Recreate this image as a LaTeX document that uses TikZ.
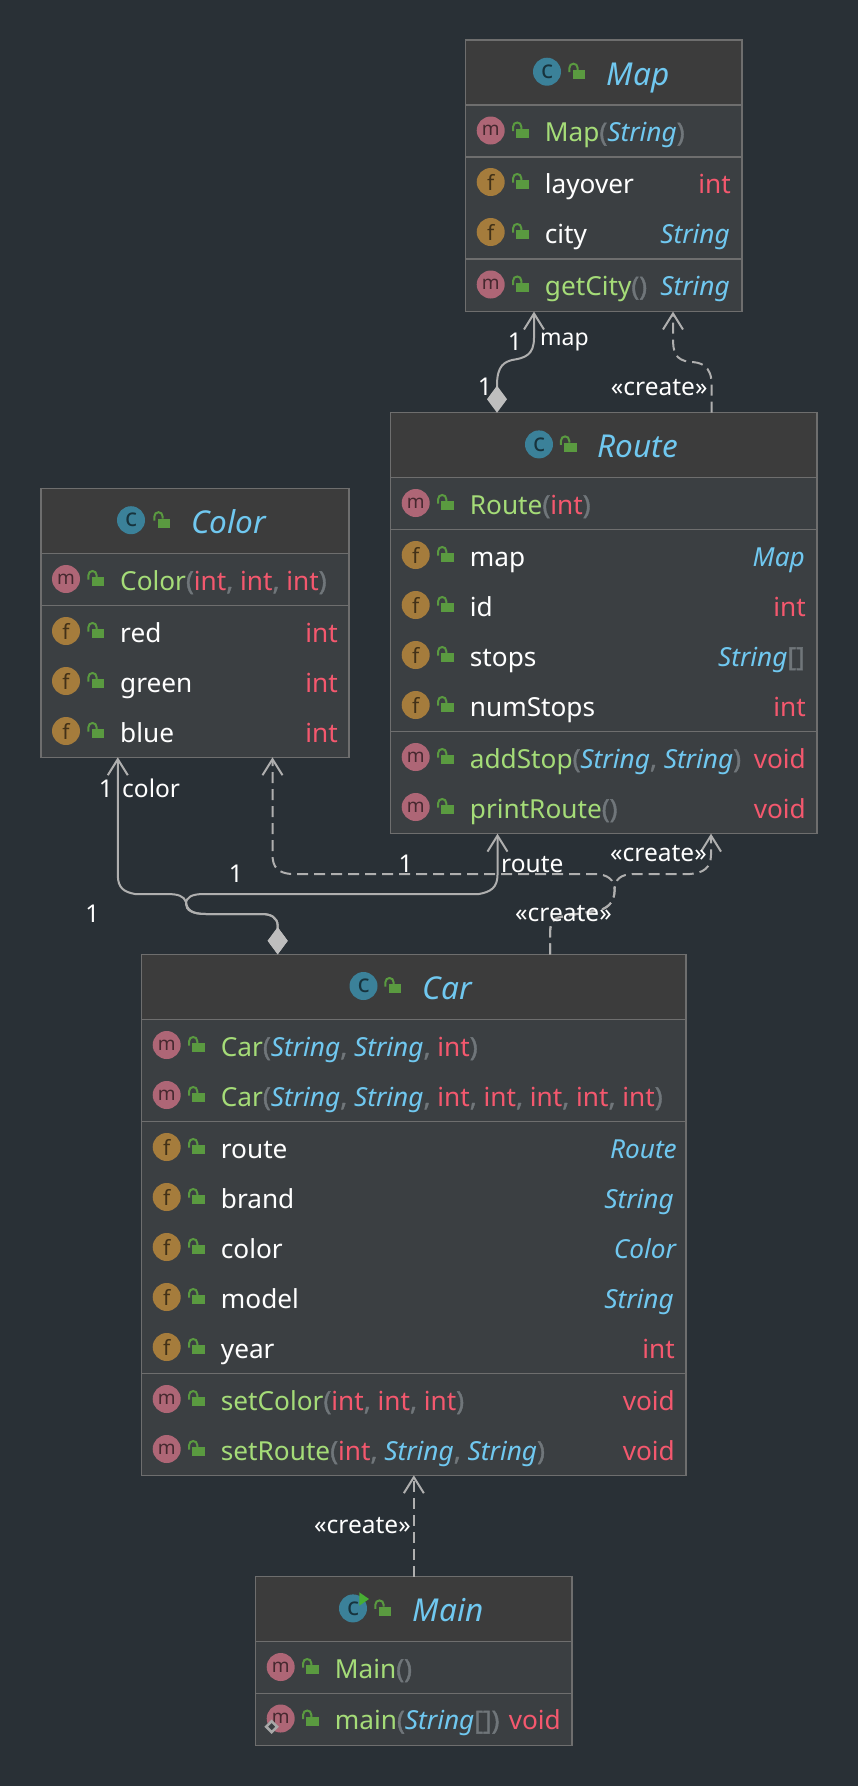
\documentclass[tikz,border=0pt]{standalone}
\usepackage{fontspec}
\setmainfont{Noto Sans}
\newfontfamily\punctfont[FakeBold=1.5]{Noto Sans}
\usetikzlibrary{arrows.meta, shapes.geometric}

\definecolor{bgdark}{HTML}{293036}
\definecolor{headfill}{HTML}{3C3C3C}
\definecolor{bodyfill}{HTML}{3B3F42}
\definecolor{boxline}{HTML}{6E6E6E}
\definecolor{arrowgray}{HTML}{AFAFAF}
\definecolor{diamondgray}{HTML}{BEBEBE}
\definecolor{iconc}{HTML}{3B8199}
\definecolor{iconm}{HTML}{AE6676}
\definecolor{iconf}{HTML}{A57C3C}
\definecolor{lockgreen}{HTML}{5A9A40}
\definecolor{methodgreen}{HTML}{A5DC78}
\definecolor{typeblue}{HTML}{70C8F0}
\definecolor{typered}{HTML}{F4586E}
\definecolor{punctgray}{HTML}{70767A}

\newcommand{\gr}[1]{\textcolor{methodgreen}{#1}}
\newcommand{\ty}[1]{\textcolor{typeblue}{\textit{#1}}}
\newcommand{\rd}[1]{\textcolor{typered}{#1}}
\newcommand{\pc}[1]{\textcolor{punctgray}{{\punctfont #1}}}

\tikzset{
  classbox/.style = {draw = boxline, line width = 1.5pt, fill = bodyfill, rectangle, anchor = north west, inner sep = 0pt, outer sep = 0pt},
  headbar/.style = {fill = headfill},
  sepline/.style = {draw = boxline, line width = 1.5pt},
  icon/.style = {circle, minimum size = 28pt, inner sep = 0pt, text = black, text opacity = 0.6},
  iconsize c/.style = {font = \fontsize{25}{25}\selectfont},
  iconsize m/.style = {font = \fontsize{19}{19}\selectfont},
  iconsize f/.style = {font = \fontsize{21}{21}\selectfont},
  rowtext/.style = {anchor = base west, inner sep = 0pt, text = white, font = \fontsize{26.2}{30}\selectfont},
  typetext/.style = {anchor = base east, inner sep = 0pt, xshift = -1pt, font = \fontsize{26.2}{30}\selectfont},
  typeitalic/.style = {typetext},
  titletext/.style = {anchor = base west, inner sep = 0pt, text = typeblue, font = \fontsize{31.5}{36}\itshape},
  linklabel/.style = {anchor = base west, inner sep = 0pt, text = white, font = \fontsize{24.5}{26}\selectfont},
  numlabel/.style = {linklabel, anchor = base},
  hasa/.style = {draw = arrowgray, line width = 2pt, {Diamond[length = 27pt, width = 20pt, fill = diamondgray, color = diamondgray]}-{Straight Barb[length = 16pt, width = 20pt]}},
  creates/.style = {draw = arrowgray, line width = 2pt, dash pattern = on 11pt off 6pt, -{Straight Barb[length = 16pt, width = 20pt]}},
  lockicon/.pic = {
    \fill[lockgreen] (-4.3, -1.7) rectangle (8, 7.3);
    \draw[lockgreen, line width = 2pt] (-7.7, 0.5) -- (-7.7, -3.5) .. controls (-7.7, -9.5) and (0.7, -9.5) .. (0.7, -3.5) -- (0.7, -1.7);
  }
}

\newcommand{\classframe}[6]{
  \node[classbox, minimum width = #3 pt - #2 pt, minimum height = #5 pt - #4 pt] (#1) at (#2, #4) {};
  \fill[headbar] (#2, #4) rectangle (#3, #6);
  \draw[classbox, fill = none] (#2, #4) rectangle (#3, #5);
  \draw[sepline] (#2, #6) -- (#3, #6);
}
\newcommand{\classhead}[5]{
  \node[icon, iconsize c, fill = iconc] (#1 icon) at (#2, #5 + 31.7) {c};
  \pic at (#3, #5 + 31.7) {lockicon};
  \node[titletext] (#1 title) at (#4 - 1.5, #5 + 45) {#1};
}
\newcommand{\member}[6]{
  \node[icon, iconsize #3, fill = icon#3] (#1 icon) at (#2 + 25, #4) {#3};
  \pic at (#2 + 55, #4) {lockicon};
  \node[rowtext] (#1) at (#2 + 79, #4 + 11) {#5};
}

\begin{document}
\begin{tikzpicture}[x = 1pt, y = -1pt]
  \fill[bgdark] (0, 0) rectangle (858, 1786);
  \useasboundingbox (0, 0) rectangle (858, 1786);

  \classframe{map box}{465.7}{742}{40}{311.6}{105}
  \classhead{Map}{547}{577}{608}{40}
  \draw[sepline] (465.7, 157) -- (742, 157);
  \draw[sepline] (465.7, 259) -- (742, 259);
  \member{map ctor}{465.7}{m}{130.5}{\gr{Map}\pc{(}\ty{String}\pc{)}}{}
  \member{map layover}{465.7}{f}{182}{layover}{}
  \node[typetext] (map layover type) at (732, 193) {\rd{int}};
  \member{map city}{465.7}{f}{232}{city}{}
  \node[typeitalic] (map city type) at (731, 243) {\ty{String}};
  \member{map getcity}{465.7}{m}{284.5}{\gr{getCity}\pc{()}}{}
  \node[typeitalic] (map getcity type) at (731, 295.5) {\ty{String}};

  \classframe{route box}{390.7}{817}{412.7}{833.7}{477.7}
  \classhead{Route}{539}{568.6}{599}{412.7}
  \draw[sepline] (390.7, 529.7) -- (817, 529.7);
  \draw[sepline] (390.7, 731.7) -- (817, 731.7);
  \member{route ctor}{390.7}{m}{503}{\gr{Route}\pc{(}\rd{int}\pc{)}}{}
  \member{route map}{390.7}{f}{555}{map}{}
  \node[typeitalic] (route map type) at (806, 566) {\ty{Map}};
  \member{route id}{390.7}{f}{605}{id}{}
  \node[typetext] (route id type) at (807, 616) {\rd{int}};
  \member{route stops}{390.7}{f}{655}{stops}{}
  \node[typeitalic] (route stops type) at (806, 666) {\ty{String}\pc{[]}};
  \member{route numstops}{390.7}{f}{705}{numStops}{}
  \node[typetext] (route numstops type) at (807, 716) {\rd{int}};
  \member{route addstop}{390.7}{m}{757}{\gr{addStop}\pc{(}\ty{String}\pc{,} \ty{String}\pc{)}}{}
  \node[typetext] (route addstop type) at (807, 768) {\rd{void}};
  \member{route print}{390.7}{m}{807}{\gr{printRoute}\pc{()}}{}
  \node[typetext] (route print type) at (807, 818) {\rd{void}};

  \classframe{color box}{41}{349}{488.5}{757.3}{553.3}
  \classhead{Color}{131}{162}{192.5}{488.5}
  \draw[sepline] (41, 605.3) -- (349, 605.3);
  \member{color ctor}{41}{m}{579}{\gr{Color}\pc{(}\rd{int}\pc{,} \rd{int}\pc{,} \rd{int}\pc{)}}{}
  \member{color red}{41}{f}{631}{red}{}
  \node[typetext] (color red type) at (339, 642) {\rd{int}};
  \member{color green}{41}{f}{681}{green}{}
  \node[typetext] (color green type) at (339, 692) {\rd{int}};
  \member{color blue}{41}{f}{731}{blue}{}
  \node[typetext] (color blue type) at (339, 742) {\rd{int}};

  \classframe{car box}{141.7}{686}{954.3}{1475.3}{1019.3}
  \classhead{Car}{363.5}{393}{424}{954.3}
  \draw[sepline] (141.7, 1121.3) -- (686, 1121.3);
  \draw[sepline] (141.7, 1373.3) -- (686, 1373.3);
  \member{car ctor a}{141.7}{m}{1045}{\gr{Car}\pc{(}\ty{String}\pc{,} \ty{String}\pc{,} \rd{int}\pc{)}}{}
  \member{car ctor b}{141.7}{m}{1095}{\gr{Car}\pc{(}\ty{String}\pc{,} \ty{String}\pc{,} \rd{int}\pc{,} \rd{int}\pc{,} \rd{int}\pc{,} \rd{int}\pc{,} \rd{int}\pc{)}}{}
  \member{car route}{141.7}{f}{1147}{route}{}
  \node[typeitalic] (car route type) at (678, 1158) {\ty{Route}};
  \member{car brand}{141.7}{f}{1197}{brand}{}
  \node[typeitalic] (car brand type) at (675, 1208) {\ty{String}};
  \member{car color}{141.7}{f}{1247}{color}{}
  \node[typeitalic] (car color type) at (678, 1258) {\ty{Color}};
  \member{car model}{141.7}{f}{1297}{model}{}
  \node[typeitalic] (car model type) at (675, 1308) {\ty{String}};
  \member{car year}{141.7}{f}{1347}{year}{}
  \node[typetext] (car year type) at (676, 1358) {\rd{int}};
  \member{car setcolor}{141.7}{m}{1399}{\gr{setColor}\pc{(}\rd{int}\pc{,} \rd{int}\pc{,} \rd{int}\pc{)}}{}
  \node[typetext] (car setcolor type) at (676, 1410) {\rd{void}};
  \member{car setroute}{141.7}{m}{1449}{\gr{setRoute}\pc{(}\rd{int}\pc{,} \ty{String}\pc{,} \ty{String}\pc{)}}{}
  \node[typetext] (car setroute type) at (676, 1460) {\rd{void}};

  \classframe{main box}{255.7}{572}{1576.7}{1745.7}{1641.7}
  \classhead{Main}{353}{383}{414}{1576.7}
  \fill[lockgreen!80!green] (359.3, 1592.3) -- (359.3, 1605.7) -- (369, 1599) -- cycle;
  \draw[sepline] (255.7, 1693.7) -- (572, 1693.7);
  \member{main ctor}{255.7}{m}{1667}{\gr{Main}\pc{()}}{}
  \member{main main}{255.7}{m}{1718.5}{\gr{main}\pc{(}\ty{String}\pc{[])}}{}
  \node[typetext] (main main type) at (562, 1729.5) {\rd{void}};
  \node[diamond, draw = boxline!60!white, line width = 2.5pt, fill = bodyfill, minimum size = 12pt, inner sep = 0pt] (main static) at (271.7, 1726.7) {};

  \draw[hasa] ([xshift = -106.85pt]route box.north) -- (497, 385) .. controls (497, 365) and (505, 362) .. (512, 360) .. controls (525, 358) and (534, 355) .. (534, 338) -- ([xshift = -69.85pt]map box.south);
  \draw[creates] ([xshift = 107.85pt]route box.north) -- (711.7, 385) .. controls (711.7, 365) and (700, 362) .. (690, 362) .. controls (675, 360) and (673, 352) .. (673, 338) -- ([xshift = 69.15pt]map box.south);
  \draw[hasa] ([xshift = -136.15pt]car box.north) -- (277.7, 926) .. controls (277.7, 917) and (270, 914) .. (262, 914) -- (206, 914) .. controls (192, 914) and (187, 910) .. (186, 902) .. controls (184, 896) and (178, 894) .. (167, 894) -- (135, 894) .. controls (124, 892) and (117.8, 888) .. (117.8, 875) -- ([xshift = -77.2pt]color box.south);
  \draw[hasa] ([xshift = -136.15pt]car box.north) -- (277.7, 926) .. controls (277.7, 917) and (270, 914) .. (262, 914) -- (206, 914) .. controls (192, 914) and (186, 910) .. (186, 904) .. controls (186, 897) and (192, 894) .. (204, 894) -- (479, 894) .. controls (490, 892) and (497.5, 888) .. (497.5, 875) -- ([xshift = -106.35pt]route box.south);
  \draw[creates] ([xshift = 136.15pt]car box.north) -- (550, 935) .. controls (550, 922) and (553, 919) .. (560, 917) -- (600, 910) .. controls (610, 907) and (614.6, 900) .. (614.6, 890) .. controls (614.6, 880) and (608, 874) .. (594, 874) -- (291, 874) .. controls (279, 873) and (272.5, 868) .. (272.5, 855) -- ([xshift = 77.5pt]color box.south);
  \draw[creates] ([xshift = 136.15pt]car box.north) -- (550, 935) .. controls (550, 922) and (553, 919) .. (560, 917) -- (600, 910) .. controls (610, 907) and (614.6, 900) .. (614.6, 890) .. controls (614.6, 880) and (620, 874) .. (634, 874) -- (690, 874) .. controls (703, 873) and (711, 868) .. (711, 855) -- ([xshift = 107.15pt]route box.south);
  \draw[creates] (main box.north) -- (car box.south);

  \node[linklabel, font = \fontsize{23}{26}\selectfont] (map name) at (540, 345) {map};
  \node[numlabel] (map one) at (515, 350) {1};
  \node[numlabel] (route one) at (485, 395) {1};
  \node[linklabel] (create map) at (610.7, 395) {«create»};
  \node[numlabel] (color one) at (106, 797) {1};
  \node[linklabel] (color name) at (122, 797) {color};
  \node[numlabel] (color car one) at (236, 882) {1};
  \node[numlabel] (car one) at (92.5, 922) {1};
  \node[numlabel] (route car one) at (405.7, 872.7) {1};
  \node[linklabel] (route name) at (501, 872.7) {route};
  \node[linklabel] (create route) at (610, 861.7) {«create»};
  \node[linklabel] (create color) at (515, 921) {«create»};
  \node[linklabel] (create car) at (314, 1533) {«create»};
\end{tikzpicture}
\end{document}
